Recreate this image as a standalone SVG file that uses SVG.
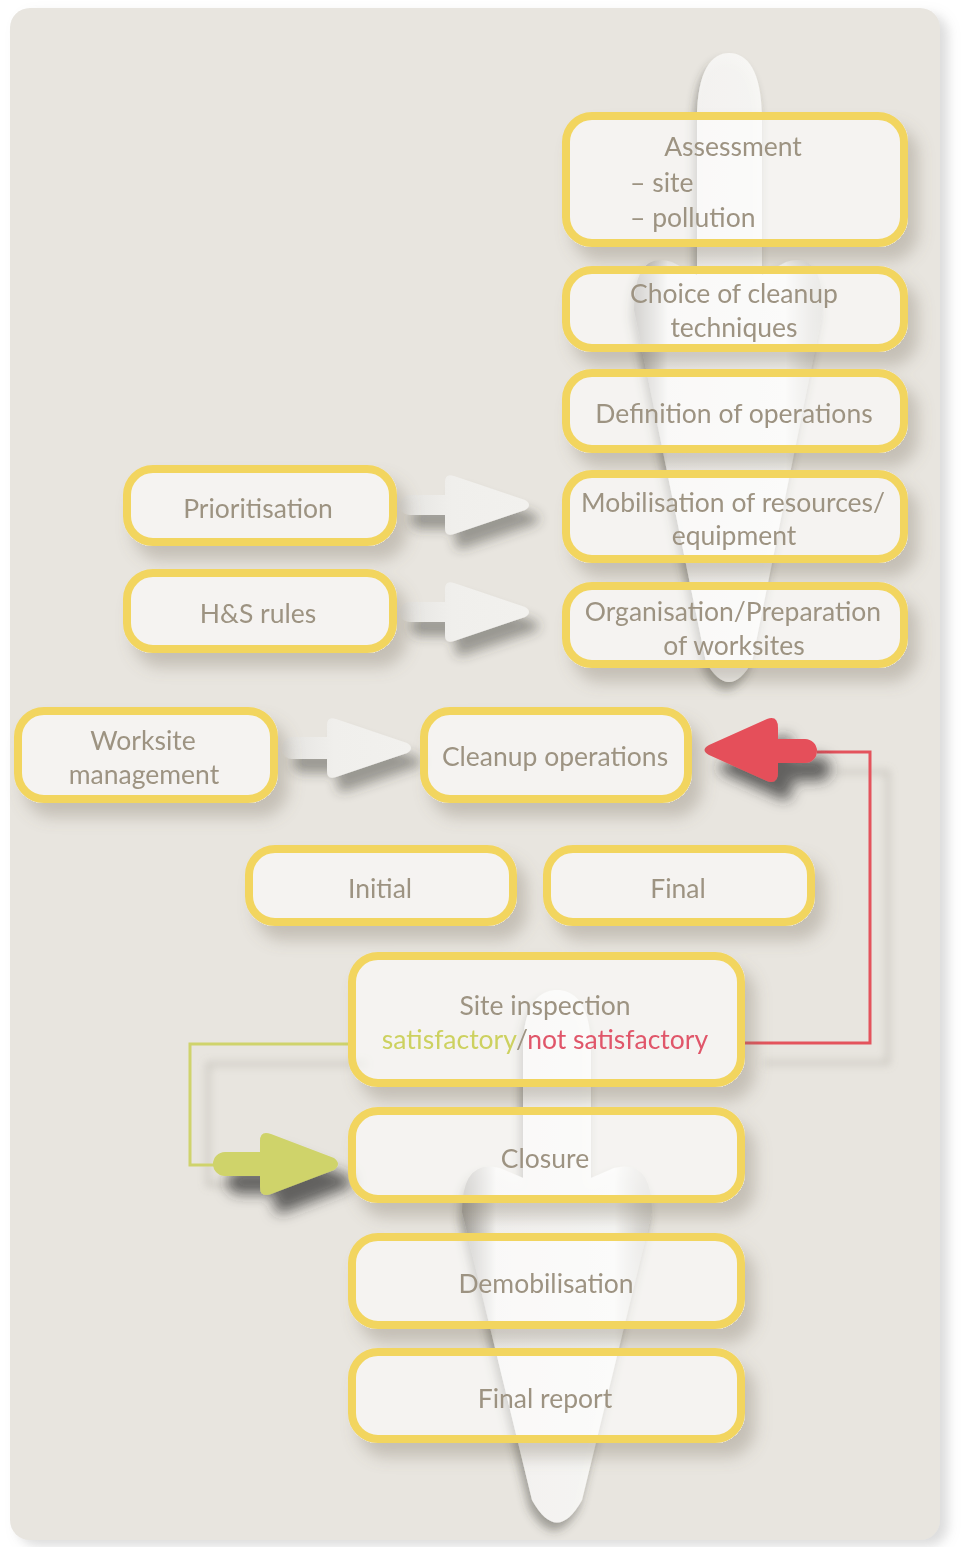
<svg xmlns="http://www.w3.org/2000/svg" width="965" height="1547" viewBox="0 0 965 1547">
<defs>
<style>
.box{fill:#ffffff;fill-opacity:0.55;stroke:#f2d55e;stroke-width:8}
.t{font-family:Lato,"Noto Sans",sans-serif;font-size:26.5px;fill:#9d9382;text-anchor:middle}
.tl{text-anchor:start}
.garrow{fill:url(#grayGrad)}
.big{fill:url(#bigGrad)}
</style>
<filter id="panelShadow" x="-5%" y="-5%" width="115%" height="115%">
<feDropShadow dx="8" dy="6" stdDeviation="6" flood-color="#9a9a9a" flood-opacity="0.35"/>
</filter>
<filter id="nodeShadow" x="-20%" y="-20%" width="150%" height="150%">
<feComponentTransfer in="SourceAlpha" result="solid"><feFuncA type="linear" slope="20"/></feComponentTransfer>
<feGaussianBlur in="solid" stdDeviation="8" result="b"/>
<feOffset in="b" dx="10" dy="14" result="o"/>
<feFlood flood-color="#7d7362" flood-opacity="0.33"/>
<feComposite in2="o" operator="in" result="s"/>
<feComposite in="s" in2="solid" operator="out" result="s2"/>
<feMerge><feMergeNode in="s2"/><feMergeNode in="SourceGraphic"/></feMerge>
</filter>
<filter id="arrowShadow" x="-30%" y="-50%" width="180%" height="230%">
<feDropShadow dx="10" dy="14" stdDeviation="6" flood-color="#3a3a36" flood-opacity="0.45"/>
</filter>
<filter id="darkShadow" x="-30%" y="-50%" width="180%" height="230%">
<feDropShadow dx="14" dy="18" stdDeviation="7" flood-color="#2a2a28" flood-opacity="0.7"/>
</filter>
<filter id="lineShadow" x="-30%" y="-20%" width="160%" height="150%">
<feDropShadow dx="18" dy="20" stdDeviation="4" flood-color="#8a867c" flood-opacity="0.45"/>
</filter>
<filter id="bigShadow" x="-40%" y="-10%" width="180%" height="130%">
<feDropShadow dx="-3" dy="8" stdDeviation="5" flood-color="#3a3730" flood-opacity="0.45"/>
</filter>
<linearGradient id="bigGrad" x1="0" y1="0" x2="1" y2="0">
<stop offset="0" stop-color="#9c9993" stop-opacity="0.85"/>
<stop offset="0.18" stop-color="#f6f5f3" stop-opacity="0.92"/>
<stop offset="0.8" stop-color="#fafaf8" stop-opacity="0.92"/>
<stop offset="1" stop-color="#cfcdc8" stop-opacity="0.85"/>
</linearGradient>
<linearGradient id="grayGrad" x1="0" y1="0" x2="1" y2="0">
<stop offset="0" stop-color="#e4e3e0"/>
<stop offset="0.4" stop-color="#f0efec"/>
<stop offset="1" stop-color="#f2f1ee"/>
</linearGradient>
</defs>
<rect x="0" y="0" width="965" height="1547" fill="#ffffff"/>
<rect x="10" y="8" width="930" height="1532" rx="20" fill="#e8e5df" filter="url(#panelShadow)"/>

<g id="connectors">
<g filter="url(#bigShadow)">
<path class="big" d="M697,275 L672,262 Q634,250 634,310 L706,662 Q729,702 752,662 L823,310 Q823,250 786,262 L762,275 L762,120 C762,70 747,53 729,53 C712,53 697,70 697,120 Z"/>
<path class="big" d="M523,1178 L500,1168 Q462,1158 462,1212 L532,1500 Q557,1545 582,1500 L652,1212 Q652,1158 614,1168 L591,1178 L591,1050 C591,1005 575,990 557,990 C539,990 523,1005 523,1050 Z"/>
</g>
<g filter="url(#arrowShadow)">
<path class="garrow" transform="translate(400,505)" d="M10,-10 L45,-10 L45,-23 Q45,-32 54,-29 L125,-5 Q133,0 125,5 L54,29 Q45,32 45,23 L45,10 L10,10 A10,10 0 0 1 10,-10 Z"/>
<path class="garrow" transform="translate(400,612)" d="M10,-10 L45,-10 L45,-23 Q45,-32 54,-29 L125,-5 Q133,0 125,5 L54,29 Q45,32 45,23 L45,10 L10,10 A10,10 0 0 1 10,-10 Z"/>
<path class="garrow" transform="translate(282,748)" d="M11,-11 L45,-11 L45,-23 Q45,-32 54,-29 L125,-5 Q133,0 125,5 L54,29 Q45,32 45,23 L45,11 L11,11 A11,11 0 0 1 11,-11 Z"/>
</g>
<polyline points="817,752 870,752 870,1043 745,1043" fill="none" stroke="#e4525c" stroke-width="3" filter="url(#lineShadow)"/>
<polyline points="348,1044 190,1044 190,1165 220,1165" fill="none" stroke="#cfd36c" stroke-width="3" filter="url(#lineShadow)"/>
<path fill="#e5505a" filter="url(#darkShadow)" d="M805,739 L778,739 L778,728 Q778,715 767,719 L709,745 Q700,750 709,755 L767,781 Q778,785 778,772 L778,763 L805,763 A12,12 0 0 0 805,739 Z"/>
<path fill="#cfd36a" filter="url(#darkShadow)" d="M225,1152 L260,1152 L260,1141 Q260,1130 271,1134 L334,1158 Q342,1164 334,1170 L271,1194 Q260,1198 260,1187 L260,1176 L225,1176 A12,12 0 0 1 225,1152 Z"/>
</g>

<g id="nodes" filter="url(#nodeShadow)">
<g id="n-assessment"><rect class="box" x="566" y="116" width="338" height="127" rx="26"/>
<text class="t" x="733" y="156">Assessment</text>
<text class="t tl" x="630" y="192">– site</text>
<text class="t tl" x="630" y="227">– pollution</text></g>
<g id="n-choice"><rect class="box" x="566" y="270" width="338" height="78" rx="26"/>
<text class="t" x="734" y="303">Choice of cleanup</text>
<text class="t" x="734" y="337">techniques</text></g>
<g id="n-definition"><rect class="box" x="566" y="373" width="338" height="76" rx="26"/>
<text class="t" x="734" y="423">Definition of operations</text></g>
<g id="n-mobilisation"><rect class="box" x="566" y="474" width="338" height="85" rx="26"/>
<text class="t" x="733" y="512">Mobilisation of resources/</text>
<text class="t" x="734" y="545">equipment</text></g>
<g id="n-organisation"><rect class="box" x="566" y="586" width="338" height="78" rx="26"/>
<text class="t" x="733" y="621">Organisation/Preparation</text>
<text class="t" x="734" y="655">of worksites</text></g>
<g id="n-prioritisation"><rect class="box" x="127" y="469" width="266" height="73" rx="26"/>
<text class="t" x="258" y="518">Prioritisation</text></g>
<g id="n-hs"><rect class="box" x="127" y="573" width="266" height="76" rx="26"/>
<text class="t" x="258" y="623">H&amp;S rules</text></g>
<g id="n-worksite"><rect class="box" x="18" y="711" width="256" height="88" rx="26"/>
<text class="t" x="143" y="750">Worksite</text>
<text class="t" x="144" y="784">management</text></g>
<g id="n-cleanup"><rect class="box" x="424" y="711" width="264" height="88" rx="26"/>
<text class="t" x="555" y="766">Cleanup operations</text></g>
<g id="n-initial"><rect class="box" x="249" y="849" width="264" height="73" rx="26"/>
<text class="t" x="380" y="898">Initial</text></g>
<g id="n-final"><rect class="box" x="547" y="849" width="264" height="73" rx="26"/>
<text class="t" x="678" y="898">Final</text></g>
<g id="n-inspection"><rect class="box" x="352" y="956" width="389" height="127" rx="26"/>
<text class="t" x="545" y="1015">Site inspection</text>
<text class="t" x="545" y="1049"><tspan fill="#cdd160">satisfactory</tspan><tspan fill="#9d9382">/</tspan><tspan fill="#e0566a">not satisfactory</tspan></text></g>
<g id="n-closure"><rect class="box" x="352" y="1111" width="389" height="88" rx="26"/>
<text class="t" x="545" y="1168">Closure</text></g>
<g id="n-demob"><rect class="box" x="352" y="1237" width="389" height="88" rx="26"/>
<text class="t" x="546" y="1293">Demobilisation</text></g>
<g id="n-report"><rect class="box" x="352" y="1352" width="389" height="87" rx="26"/>
<text class="t" x="545" y="1408">Final report</text></g>
</g>
</svg>
